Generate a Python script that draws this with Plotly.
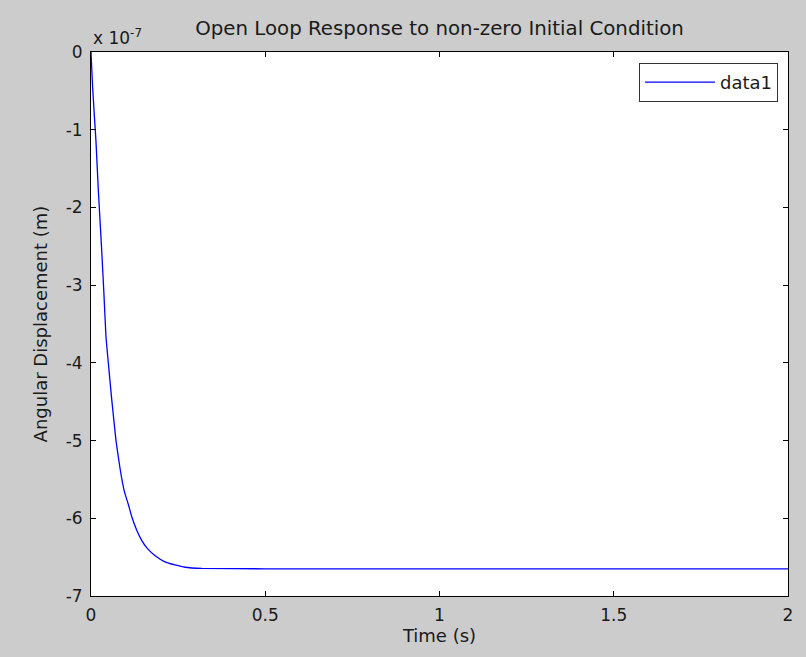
import plotly.graph_objects as go

# Time (s)
time_s = [0.0, 0.0046, 0.0095, 0.0143, 0.021, 0.0267, 0.0316, 0.037, 0.043, 0.0497,
          0.059, 0.0717, 0.083, 0.0955, 0.107, 0.117, 0.131, 0.145, 0.162, 0.188,
          0.212, 0.241, 0.27, 0.318, 0.5, 1.0, 1.5, 2.0]
# Angular displacement, in units of 1e-7 m
disp_e7 = [0.0, -0.45, -0.81, -1.15, -1.78, -2.23, -2.63, -3.1, -3.67, -4.0,
           -4.45, -5.0, -5.35, -5.65, -5.82, -5.98, -6.15, -6.28, -6.39, -6.495,
           -6.56, -6.60, -6.63, -6.645, -6.65, -6.65, -6.65, -6.65]

x_ticks = [0, 0.5, 1, 1.5, 2]
x_tick_labels = ["0", "0.5", "1", "1.5", "2"]
y_ticks = [0, -1, -2, -3, -4, -5, -6, -7]
y_tick_labels = ["0", "-1", "-2", "-3", "-4", "-5", "-6", "-7"]

FONT = "DejaVu Sans, Verdana, sans-serif"
TXT = "#1a1a1a"

fig = go.Figure()
fig.add_trace(go.Scatter(x=time_s, y=disp_e7, mode="lines", name="data1",
                         line=dict(color="#0000ff", width=1.3, shape="spline", smoothing=0.3)))

fig.update_layout(
    width=806, height=657,
    paper_bgcolor="#cccccc", plot_bgcolor="#ffffff",
    margin=dict(l=91, r=18, t=52, b=61),
    font=dict(family=FONT, size=17, color=TXT),
    title=dict(text="Open Loop Response to non-zero Initial Condition",
               x=0.5453, xanchor="center", y=1 - 28 / 657, yanchor="middle",
               font=dict(size=19.8, family=FONT, color=TXT)),
    showlegend=True,
    legend=dict(x=0.9857, y=0.98, xanchor="right", yanchor="top",
                bgcolor="#ffffff", bordercolor="#333333", borderwidth=1,
                itemwidth=70,
                font=dict(size=18, family=FONT, color=TXT)),
    xaxis=dict(range=[0, 2], tickvals=x_ticks, ticktext=x_tick_labels,
               ticks="inside", ticklen=5, tickcolor="#000000",
               ticklabelstandoff=4,
               showline=True, linecolor="#000000", linewidth=1, mirror="ticks",
               showgrid=False, zeroline=False,
               title=dict(text="Time (s)", standoff=4, font=dict(size=18))),
    yaxis=dict(range=[-7, 0], tickvals=y_ticks, ticktext=y_tick_labels,
               ticks="inside", ticklen=5, tickcolor="#000000",
               ticklabelstandoff=4,
               showline=True, linecolor="#000000", linewidth=1, mirror="ticks",
               showgrid=False, zeroline=False,
               title=dict(text="Angular Displacement (m)", standoff=13, font=dict(size=18))),
)

fig.add_annotation(xref="paper", yref="paper", x=0, y=1, xanchor="left", yanchor="bottom",
                   yshift=2, showarrow=False,
                   text="x 10<sup>-7</sup>", font=dict(size=17, family=FONT, color=TXT))

fig.write_html("out.html", config={"displayModeBar": False},
               post_script="document.body.style.margin='0';document.body.style.background='#cccccc';")
